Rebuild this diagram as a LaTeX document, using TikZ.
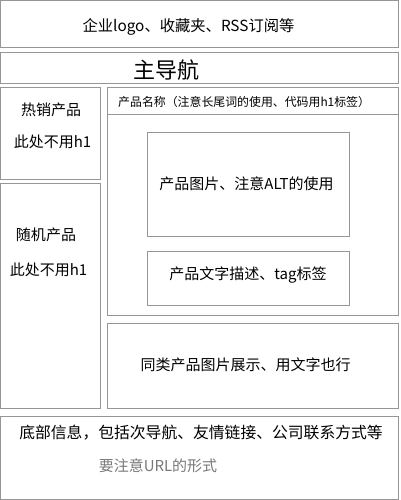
\documentclass[tikz,border=0pt]{standalone}
\usepackage{fontspec}
\setmainfont{Noto Sans CJK SC}
\definecolor{boxline}{RGB}{150,150,150}
\definecolor{note}{RGB}{120,120,120}
\tikzset{
  box/.style={draw=boxline, line width=1pt},
  txt/.style={inner sep=0pt, font=\fontsize{15}{15}\selectfont, text=black},
}
\begin{document}
\begin{tikzpicture}[x=1pt,y=-1pt]
\useasboundingbox (0,0) rectangle (400,500);
% boxes
\draw[box] (0.5,0.5) rectangle (398.5,48);
\draw[box] (0.5,53) rectangle (398.5,84);
\draw[box] (0.5,88) rectangle (100,179);
\draw[box] (0.5,183) rectangle (100,408);
\draw[box] (107,88) rectangle (398.5,315);
\draw[box] (107,115) -- (398.5,115);
\draw[box] (147,132) rectangle (349,236);
\draw[box] (147,251) rectangle (349,305);
\draw[box] (107,323) rectangle (398.5,408);
\draw[box] (0.5,416) rectangle (398.5,499);
% texts
\node[txt, font=\fontsize{15.3}{16}\selectfont] (top) at (188.5,26.5) {企业logo、收藏夹、RSS订阅等};
\node[txt, font=\fontsize{22}{22}\selectfont] (nav) at (166.5,70) {主导航};
\node[txt, font=\fontsize{11.9}{12}\selectfont, anchor=west] (name) at (118,102) {产品名称（注意长尾词的使用、代码用h1标签）};
\node[txt] (hot) at (51,109.5) {热销产品};
\node[txt] (hotnote) at (52.5,141.5) {此处不用h1};
\node[txt] (rand) at (46,234.5) {随机产品};
\node[txt] (randnote) at (48.5,270) {此处不用h1};
\node[txt] (img) at (246.5,183.5) {产品图片、注意ALT的使用};
\node[txt] (desc) at (248,275.5) {产品文字描述、tag标签};
\node[txt] (sim) at (245.5,364.5) {同类产品图片展示、用文字也行};
\node[txt, font=\fontsize{15.8}{16}\selectfont] (foot) at (201,432.5) {底部信息，包括次导航、友情链接、公司联系方式等};
\node[txt, text=note] (url) at (158,466) {要注意URL的形式};
\end{tikzpicture}
\end{document}
